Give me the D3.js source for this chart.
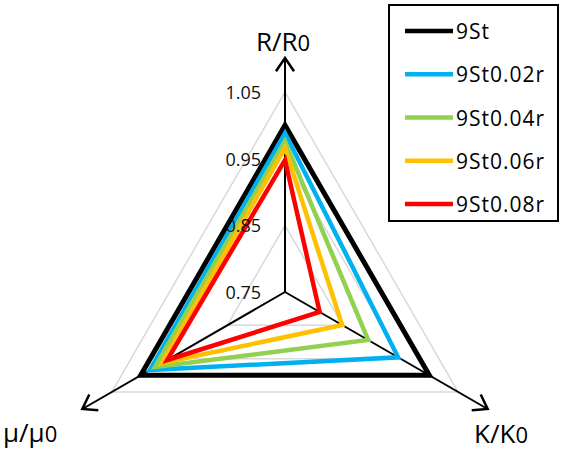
<!DOCTYPE html>
<html>
<head>
<meta charset="utf-8">
<script src="https://cdn.jsdelivr.net/npm/d3@7"></script>
<style>
  body { margin: 0; background: #fff; }
  text { font-family: "Open Sans", "Liberation Sans", sans-serif; }
</style>
</head>
<body>
<div id="chart"></div>
<script>
// Data
const axes = ["R/R", "K/K", "μ/μ"];
const seriesNames = ["9St", "9St0.02r", "9St0.04r", "9St0.06r", "9St0.08r"];
const seriesColors = ["#000000", "#00b0f0", "#92d050", "#ffc000", "#ff0000"];
const rValues = [1.0, 0.988, 0.976, 0.966, 0.948];
const kValues = [1.0, 0.946, 0.894, 0.849, 0.81];
const muValues = [1.0, 0.984, 0.975, 0.963, 0.954];
const ticks = [0.75, 0.85, 0.95, 1.05];

const width = 565, height = 452;
const cx = 285, cy = 292;

const svg = d3.select("#chart")
    .append("svg")
    .attr("width", width)
    .attr("height", height);

// radial scale: 0.75 at center, 1.05 at outer grid
const r = d3.scaleLinear().domain([0.75, 1.05]).range([0, 200]);
const arrowLen = 234;

// angles for the three axes (top, bottom-right, bottom-left)
const angles = [-Math.PI / 2, Math.PI / 6, 5 * Math.PI / 6];
const pt = (i, rad) => [cx + rad * Math.cos(angles[i]), cy + rad * Math.sin(angles[i])];

// Gridlines
svg.append("g")
    .selectAll("path")
    .data(ticks.slice(1))
    .enter()
    .append("path")
    .attr("d", t => d3.line()([0, 1, 2].map(i => pt(i, r(t)))) + "Z")
    .style("fill", "none")
    .style("stroke", "#d9d9d9")
    .style("stroke-width", 1.5);

// Axis lines with arrow heads
const axisG = svg.append("g");
[0, 1, 2].forEach(i => {
    const [x2, y2] = pt(i, arrowLen);
    axisG.append("line")
        .attr("x1", cx).attr("y1", cy)
        .attr("x2", x2).attr("y2", y2)
        .style("stroke", "#000")
        .style("stroke-width", 2);
    const a = angles[i];
    const head = 16, spread = 0.6;
    const p1 = [x2 - head * Math.cos(a - spread), y2 - head * Math.sin(a - spread)];
    const p2 = [x2 - head * Math.cos(a + spread), y2 - head * Math.sin(a + spread)];
    axisG.append("path")
        .attr("d", d3.line()([p1, [x2, y2], p2]))
        .style("fill", "none")
        .style("stroke", "#000")
        .style("stroke-width", 2.5);
});

// Series triangles
const seriesData = seriesNames.map((name, j) => ({
    name: name,
    color: seriesColors[j],
    values: [rValues[j], kValues[j], muValues[j]]
}));

svg.append("g")
    .selectAll("path")
    .data(seriesData)
    .enter()
    .append("path")
    .attr("d", d => d3.line()(d.values.map((v, i) => pt(i, r(v)))) + "Z")
    .style("fill", "none")
    .style("stroke", d => d.color)
    .style("stroke-width", (d, j) => j === 0 ? 5 : 4.5)
    .style("stroke-linejoin", "miter");

// Tick labels
svg.append("g")
    .selectAll("text")
    .data(ticks)
    .enter()
    .append("text")
    .attr("x", cx - 24)
    .attr("y", t => cy - r(t) + 7)
    .attr("text-anchor", "end")
    .style("font-size", "18px")
    .style("fill", "#111")
    .text(t => t.toFixed(2));

// Axis titles
const titlePos = [[283, 51, "middle"], [474, 443, "start"], [3, 442, "start"]];
axes.forEach((name, i) => {
    const t = svg.append("text")
        .attr("x", titlePos[i][0])
        .attr("y", titlePos[i][1])
        .attr("text-anchor", titlePos[i][2])
        .style("font-size", "26px");
    t.append("tspan").text(name);
    t.append("tspan").style("font-size", "22px").text("0");
});

// Legend
const legend = svg.append("g");
legend.append("rect")
    .attr("x", 389).attr("y", 5)
    .attr("width", 169).attr("height", 216)
    .style("fill", "#fff")
    .style("stroke", "#000")
    .style("stroke-width", 2);

const legendY = d3.scalePoint().domain(seriesNames).range([31, 204]);
seriesData.forEach(d => {
    const y = legendY(d.name);
    legend.append("line")
        .attr("x1", 405).attr("x2", 453)
        .attr("y1", y).attr("y2", y)
        .style("stroke", d.color)
        .style("stroke-width", 4.5);
    legend.append("text")
        .attr("x", 456)
        .attr("y", y + 8)
        .style("font-size", "21px")
        .style("letter-spacing", "1px")
        .text(d.name);
});
</script>
</body>
</html>
